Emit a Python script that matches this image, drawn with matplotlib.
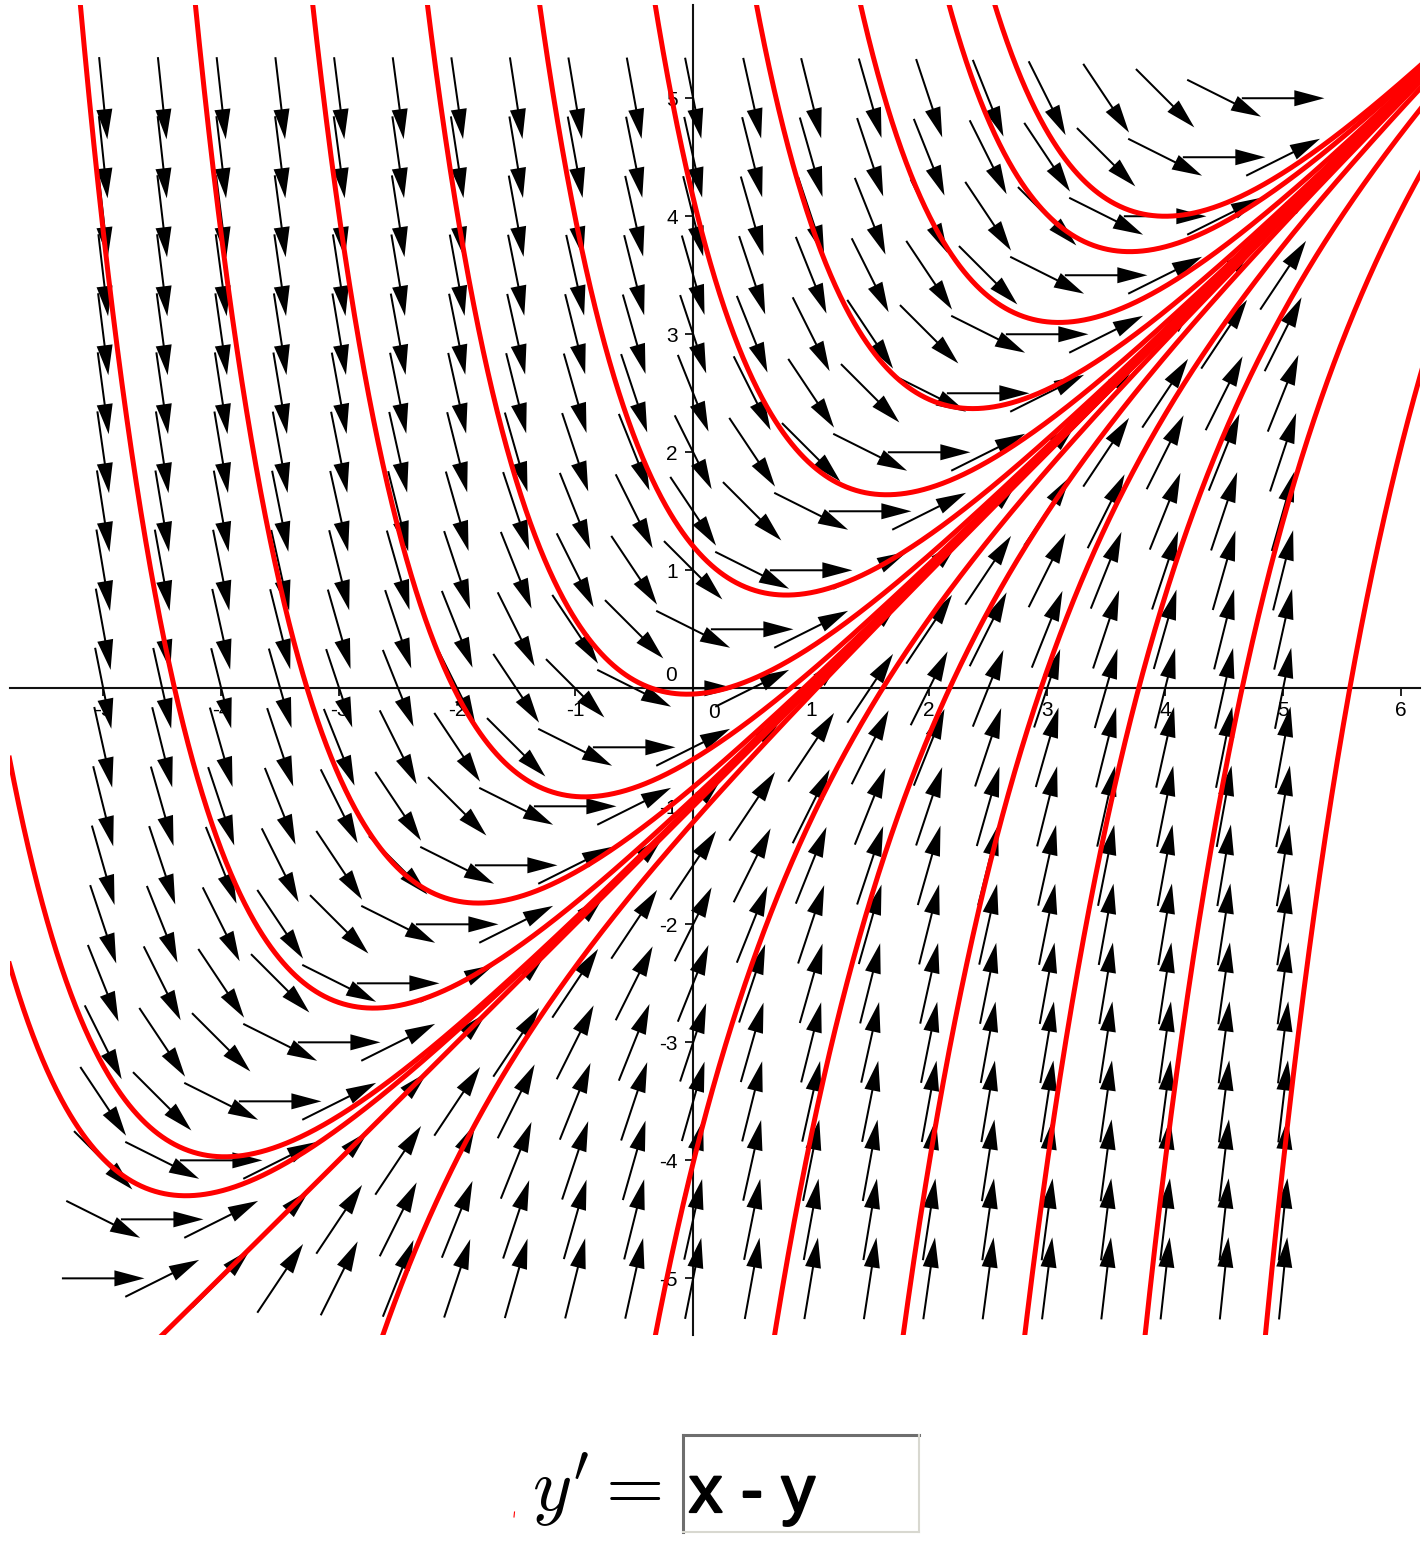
import numpy as np
import matplotlib
matplotlib.use("Agg")
import matplotlib.pyplot as plt
from matplotlib.lines import Line2D
import matplotlib.patheffects as pe

plt.rcParams['font.family'] = ['Liberation Sans', 'DejaVu Sans']
plt.rcParams['mathtext.fontset'] = 'cm'
plt.rcParams['axes.unicode_minus'] = False

# grid of the direction field (same values in x and y)
grid_vals = [-5, -4.5, -4, -3.5, -3, -2.5, -2, -1.5, -1, -0.5, 0,
             0.5, 1, 1.5, 2, 2.5, 3, 3.5, 4, 4.5, 5]

# red solution curves, each one given by a point it goes through
# curves above y = x - 1: their lowest points (they sit on y = x)
upper_min_x = [-4.3, -3.97, -2.71, -1.82, -0.92, -0.05, 0.79, 1.64, 2.37, 3.1, 3.7, 4.0]
# curves below: where they leave the bottom edge
lower_exit_x = [-4.5, -2.63, -0.32, 0.69, 1.78, 2.81, 3.83, 4.85]
lower_exit_y = -5.48

x_ticks = [-5, -4, -3, -2, -1, 1, 2, 3, 4, 5, 6]
y_ticks = [-5, -4, -3, -2, -1, 1, 2, 3, 4, 5]

equation = "x - y"


def slope(x, y):
    return x - y


def trace(x0, y0, xmin=-5.9, xmax=6.3, h=0.005):
    # plain RK4, both directions from the start point
    out = []
    for step in (h, -h):
        xs, ys = [x0], [y0]
        x, y = x0, y0
        while xmin <= x <= xmax and abs(y) < 12:
            k1 = slope(x, y)
            k2 = slope(x + step / 2, y + step * k1 / 2)
            k3 = slope(x + step / 2, y + step * k2 / 2)
            k4 = slope(x + step, y + step * k3)
            y = y + step * (k1 + 2 * k2 + 2 * k3 + k4) / 6
            x = x + step
            xs.append(x)
            ys.append(y)
        out.append((xs, ys))
    fx, fy = out[0]
    bx, by = out[1]
    return bx[::-1] + fx[1:], by[::-1] + fy[1:]


fig = plt.figure(figsize=(14.28, 15.52), dpi=100)
ax = fig.add_axes([10 / 1428, 217 / 1552, 1410 / 1428, 1330 / 1552])
ax.set_xlim(-5.79, 6.16)
ax.set_ylim(-5.48, 5.79)

# direction field
X, Y = np.meshgrid(grid_vals, grid_vals)
S = slope(X, Y)
n = np.hypot(1, S)
L = 0.7
ax.quiver(X, Y, L / n, L * S / n, pivot='middle', angles='xy',
          scale_units='xy', scale=1, units='xy', width=0.017,
          headwidth=8, headlength=15, headaxislength=15,
          color='black', zorder=3)

for x0 in upper_min_x:
    xs, ys = trace(x0, x0)
    ax.plot(xs, ys, color='red', lw=3.6, zorder=4)
for x0 in lower_exit_x:
    xs, ys = trace(x0, lower_exit_y)
    ax.plot(xs, ys, color='red', lw=3.6, zorder=4)

# axes through the origin
for side in ('top', 'right'):
    ax.spines[side].set_visible(False)
ax.spines['left'].set_position(('data', 0))
ax.spines['bottom'].set_position(('data', 0))
for side in ('left', 'bottom'):
    ax.spines[side].set_linewidth(1.5)
    ax.spines[side].set_color('#111111')
    ax.spines[side].set_zorder(2.5)

ax.set_xticks(x_ticks)
ax.set_yticks(y_ticks)
ax.tick_params(direction='out', length=6, width=1.3, labelsize=15, color='#111111')
ax.tick_params(axis='x', pad=3.5)
ax.tick_params(axis='y', pad=5)
ax.annotate('0', xy=(0, 0), xytext=(15, -17.3), textcoords='offset points',
            ha='center', va='center', fontsize=15)
ax.annotate('0', xy=(0, 0), xytext=(-15.8, 9.4), textcoords='offset points',
            ha='center', va='center', fontsize=15)

# equation line under the plot
fig.text(662 / 1428, 42 / 1552, r"$y' =$", fontsize=54, ha='right', va='baseline')
bx0, bx1 = 683 / 1428, 919 / 1428
by0, by1 = 20 / 1552, 117 / 1552
fig.add_artist(Line2D([bx0, bx1], [by1, by1], color='#6e6e6e', lw=2.2, transform=fig.transFigure))
fig.add_artist(Line2D([bx0, bx0], [by0, by1], color='#6e6e6e', lw=2.2, transform=fig.transFigure))
fig.add_artist(Line2D([bx0, bx1], [by0, by0], color='#d8d8d0', lw=1.5, transform=fig.transFigure))
fig.add_artist(Line2D([bx1, bx1], [by0, by1], color='#d8d8d0', lw=1.5, transform=fig.transFigure))
fig.text(689 / 1428, 40 / 1552, equation, fontsize=48, ha='left', va='baseline',
         path_effects=[pe.withStroke(linewidth=1.6, foreground='black')])
fig.add_artist(Line2D([514.5 / 1428, 514 / 1428], [40 / 1552, 35 / 1552], color='red', lw=0.8,
                      transform=fig.transFigure))

fig.savefig("out.png", dpi=100)
